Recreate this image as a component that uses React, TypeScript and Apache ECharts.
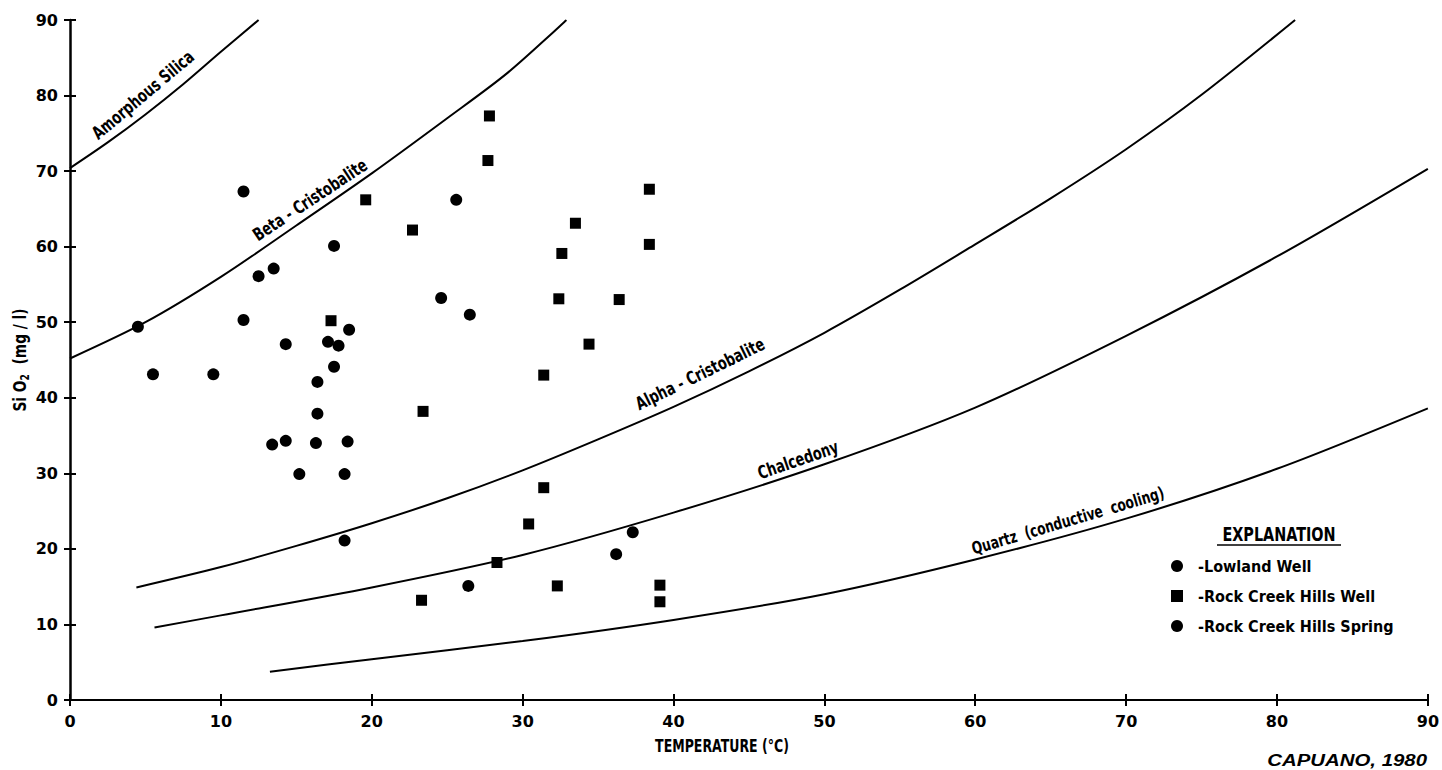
import React, { useEffect, useRef } from "react";
import * as echarts from "echarts";

// ---- Data ----
const xMin = 0;
const xMax = 90;
const yMin = 0;
const yMax = 90;
const tickInterval = 10;

const lowlandWell: number[][] = [
  [4.5, 49.4], [5.5, 43.1], [9.5, 43.1], [11.5, 50.3], [11.5, 67.3],
  [12.5, 56.1], [13.5, 57.1], [14.3, 47.1], [17.5, 60.1], [18.5, 49.0],
  [17.1, 47.4], [17.8, 46.9], [17.5, 44.1], [16.4, 42.1], [16.4, 37.9],
  [13.4, 33.8], [14.3, 34.3], [16.3, 34.0], [18.4, 34.2], [15.2, 29.9],
  [18.2, 29.9], [18.2, 21.1],
];

const rockCreekHillsWell: number[][] = [
  [17.3, 50.2], [19.6, 66.2], [22.7, 62.2], [27.8, 77.3], [27.7, 71.4],
  [38.4, 67.6], [33.5, 63.1], [38.4, 60.3], [32.6, 59.1], [32.4, 53.1],
  [36.4, 53.0], [34.4, 47.1], [31.4, 43.0], [23.4, 38.2], [31.4, 28.1],
  [30.4, 23.3], [28.3, 18.2], [32.3, 15.1], [23.3, 13.2], [39.1, 15.2],
  [39.1, 13.0],
];

const rockCreekHillsSpring: number[][] = [
  [25.6, 66.2], [24.6, 53.2], [26.5, 51.0], [26.4, 15.1], [36.2, 19.3],
  [37.3, 22.2],
];

const amorphousSilica: number[][] = [
  [0, 70.4], [2.5, 73.8], [5, 77.5], [7.5, 81.5], [10, 85.8], [12.5, 90],
];

const betaCristobalite: number[][] = [
  [0, 45.2], [5, 50.0], [10, 56.0], [15, 62.8], [20, 69.7],
  [25, 77.0], [29, 83.0], [32.9, 90],
];

const alphaCristobalite: number[][] = [
  [4.4, 14.9], [10, 17.6], [15, 20.4], [20, 23.4], [25, 26.7],
  [30, 30.4], [35, 34.5], [40, 38.8], [45, 43.5], [50, 48.6],
  [55, 54.3], [60, 60.3], [65, 66.4], [70, 72.9], [75, 80.1], [81.2, 90],
];

const chalcedony: number[][] = [
  [5.6, 9.6], [10, 11.2], [20, 14.9], [30, 19.2], [40, 24.8],
  [50, 31.2], [60, 38.7], [70, 48.2], [80, 58.7], [90, 70.3],
];

const quartz: number[][] = [
  [13.25, 3.75], [20, 5.4], [30, 7.8], [40, 10.6], [50, 14.0],
  [60, 18.6], [70, 24.0], [80, 30.6], [90, 38.6],
];

const seriesNames = ["Lowland Well", "Rock Creek Hills Well", "Rock Creek Hills Spring"];

const COND = "'DejaVu Sans Condensed', 'Liberation Sans Narrow', 'DejaVu Sans', sans-serif";
const TICKFONT = "'DejaVu Sans', 'Liberation Sans', sans-serif";

export default function App() {
  const ref = useRef<HTMLDivElement>(null);

  useEffect(() => {
    document.body.style.margin = "0";
    const chart = echarts.init(ref.current!, null, { renderer: "svg" });

    const axisCommon = {
      type: "value" as const,
      interval: tickInterval,
      splitLine: { show: false },
    };

    const curve = (name: string, data: number[][]) => ({
      name,
      type: "line",
      data,
      smooth: 0.3,
      symbol: "none",
      silent: true,
      lineStyle: { color: "#000", width: 2 },
      z: 1,
    });

    const condText = (
      text: string,
      x: number,
      y: number,
      deg: number,
      size: number,
      squeeze = 0.8,
      align = "center"
    ) => ({
      type: "text",
      x,
      y,
      rotation: (deg * Math.PI) / 180,
      scaleX: squeeze,
      style: {
        text,
        fill: "#000",
        fontSize: size,
        fontWeight: "bold",
        fontFamily: COND,
        align,
        verticalAlign: "middle",
      },
    });

    chart.setOption({
      animation: false,
      backgroundColor: "#fff",
      grid: { left: 70, right: 14, top: 20, bottom: 70, containLabel: false },
      xAxis: [
        {
          ...axisCommon,
          min: xMin,
          max: xMax,
          position: "bottom",
          axisLine: { show: true, lineStyle: { color: "#000", width: 2 } },
          axisTick: { show: true, length: 6, lineStyle: { color: "#000", width: 2 } },
          axisLabel: {
            color: "#000",
            fontSize: 16,
            fontWeight: "bold",
            fontFamily: TICKFONT,
            margin: 13,
          },
        },
        {
          ...axisCommon,
          min: xMin,
          max: xMax,
          position: "bottom",
          axisLine: { show: false },
          axisTick: { show: true, inside: true, length: 6, lineStyle: { color: "#000", width: 2 } },
          axisLabel: { show: false },
        },
      ],
      yAxis: [
        {
          ...axisCommon,
          min: yMin,
          max: yMax,
          position: "left",
          axisLine: { show: true, lineStyle: { color: "#000", width: 2.5 } },
          axisTick: { show: true, length: 6, lineStyle: { color: "#000", width: 2 } },
          axisLabel: {
            color: "#000",
            fontSize: 16,
            fontWeight: "bold",
            fontFamily: TICKFONT,
            margin: 12,
          },
        },
        {
          ...axisCommon,
          min: yMin,
          max: yMax,
          position: "left",
          axisLine: { show: false },
          axisTick: { show: true, inside: true, length: 6, lineStyle: { color: "#000", width: 2 } },
          axisLabel: { show: false },
        },
      ],
      legend: {
        data: seriesNames,
        orient: "vertical",
        left: 1166,
        top: 553,
        itemWidth: 12,
        itemHeight: 12,
        itemGap: 14,
        selectedMode: false,
        formatter: (n: string) => "  -" + n,
        textStyle: { color: "#000", fontSize: 16, fontWeight: "bold", fontFamily: COND },
      },
      series: [
        curve("Amorphous Silica", amorphousSilica),
        curve("Beta - Cristobalite", betaCristobalite),
        curve("Alpha - Cristobalite", alphaCristobalite),
        curve("Chalcedony", chalcedony),
        curve("Quartz (conductive cooling)", quartz),
        {
          name: seriesNames[0],
          type: "scatter",
          data: lowlandWell,
          symbol: "circle",
          symbolSize: 12,
          itemStyle: { color: "#000", opacity: 1 },
          z: 3,
        },
        {
          name: seriesNames[1],
          type: "scatter",
          data: rockCreekHillsWell,
          symbol: "rect",
          symbolSize: 11,
          itemStyle: { color: "#000", opacity: 1 },
          z: 3,
        },
        {
          name: seriesNames[2],
          type: "scatter",
          data: rockCreekHillsSpring,
          symbol: "circle",
          symbolSize: 12,
          itemStyle: { color: "#000", opacity: 1 },
          z: 3,
        },
      ],
      graphic: [
        condText("Amorphous Silica", 143, 95, 40, 18),
        condText("Beta - Cristobalite", 310, 200, 33.5, 18),
        condText("Alpha - Cristobalite", 700, 374, 26, 18),
        condText("Chalcedony", 798, 460, 19, 18),
        condText("Quartz  (conductive  cooling)", 1068, 521, 16.5, 17),
        {
          type: "text",
          x: 20,
          y: 360,
          rotation: Math.PI / 2,
          scaleX: 0.85,
          style: {
            text: "Si O{s|2}  (mg / l)",
            fill: "#000",
            fontSize: 18,
            fontWeight: "bold",
            fontFamily: COND,
            align: "center",
            verticalAlign: "middle",
            rich: {
              s: { fontSize: 12, fontWeight: "bold", fontFamily: COND, fill: "#000", padding: [10, 0, 0, 0] },
            },
          },
        },
        condText("TEMPERATURE (°C)", 722, 747, 0, 17, 0.82),
        condText("EXPLANATION", 1279, 534, 0, 20, 0.8),
        {
          type: "line",
          shape: { x1: 1217, y1: 545, x2: 1341, y2: 545 },
          style: { stroke: "#000", lineWidth: 1.5 },
        },
        {
          type: "text",
          x: 1427,
          y: 760,
          scaleX: 1.2,
          style: {
            text: "CAPUANO, 1980",
            fill: "#000",
            fontSize: 17,
            fontWeight: "bold",
            fontStyle: "italic",
            fontFamily: "'Liberation Sans', Arial, sans-serif",
            align: "right",
            verticalAlign: "middle",
          },
        },
      ],
    });

    return () => chart.dispose();
  }, []);

  return <div ref={ref} style={{ width: 1442, height: 770 }} />;
}
